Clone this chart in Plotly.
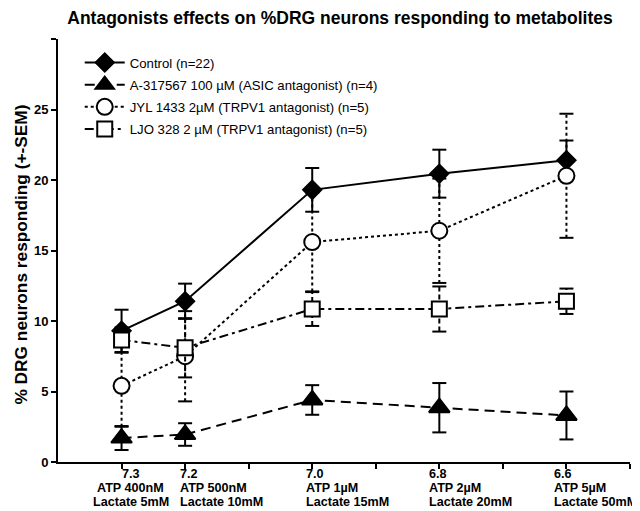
import plotly.graph_objects as go

# ---- data ----
ph = [7.3, 7.2, 7.0, 6.8, 6.6]
ph_labels = ["7.3", "7.2", "7.0", "6.8", "6.6"]
atp_labels = ["ATP 400nM", "ATP 500nM", "ATP 1µM", "ATP 2µM", "ATP 5µM"]
lactate_labels = ["Lactate 5mM", "Lactate 10mM", "Lactate 15mM", "Lactate 20mM", "Lactate 50mM"]

control_mean = [9.3, 11.4, 19.3, 20.45, 21.4]
control_sem = [1.5, 1.25, 1.55, 1.7, 1.4]
a317_mean = [1.7, 1.95, 4.4, 3.85, 3.3]
a317_sem = [0.85, 0.8, 1.05, 1.75, 1.7]
jyl_mean = [5.4, 7.5, 15.6, 16.4, 20.3]
jyl_sem = [2.9, 3.2, 3.5, 3.7, 4.4]
ljo_mean = [8.65, 8.1, 10.85, 10.85, 11.4]
ljo_sem = [0.9, 2.1, 1.2, 1.6, 0.9]

series_names = [
    "Control (n=22)",
    "A-317567 100 µM (ASIC antagonist) (n=4)",
    "JYL 1433 2µM (TRPV1 antagonist) (n=5)",
    "LJO 328 2 µM (TRPV1 antagonist) (n=5)",
]

y_ticks = [0, 5, 10, 15, 20, 25, 30]
y_ticklabels = ["0", "5", "10", "15", "20", "25", ""]
x_ticks = [7.3, 7.2, 7.1, 7.0, 6.9, 6.8, 6.7, 6.6, 6.5]

# ---- styles ----
FONT = "Liberation Sans, Arial, sans-serif"
styles = [
    dict(symbol="diamond", size=14, fill="black", dash="solid", edash="solid"),
    dict(symbol="triangle-up", size=18, fill="black", dash="10px,6px", edash="solid"),
    dict(symbol="circle", size=16, fill="white", dash="3px,3px", edash="3px,3px"),
    dict(symbol="square", size=15, fill="white", dash="9px,4px,3px,4px", edash="5px,3px"),
]
label_anchor = ["center", "left", "left", "left", "left"]
label_shift = [9, -7, -8, -12, -14]
line_offsets = [-11.5, -25.5, -39.5]

# the page body adds an 8 px offset, so the figure is drawn 8 px smaller
W, H = 632, 503

fig = go.Figure()

all_means = [control_mean, a317_mean, jyl_mean, ljo_mean]
all_sems = [control_sem, a317_sem, jyl_sem, ljo_sem]

for i, (name, m, s, st) in enumerate(zip(series_names, all_means, all_sems, styles)):
    ex, ey = [], []
    for xv, mv, sv in zip(ph, m, s):
        ex += [xv, xv, None]
        ey += [mv - sv, mv + sv, None]
    fig.add_trace(go.Scatter(
        x=ex, y=ey, mode="lines", showlegend=False, hoverinfo="skip",
        line=dict(color="black", width=2, dash=st["edash"]),
    ))
    caps_y = [mv - sv for mv, sv in zip(m, s)] + [mv + sv for mv, sv in zip(m, s)]
    fig.add_trace(go.Scatter(
        x=ph + ph, y=caps_y, mode="markers", showlegend=False, hoverinfo="skip",
        marker=dict(symbol="line-ew", size=10, line=dict(color="black", width=2)),
    ))
    fig.add_trace(go.Scatter(
        x=ph, y=m, name=name, mode="lines+markers", legendgroup="g%d" % i,
        line=dict(color="black", width=2, dash=st["dash"]),
        marker=dict(symbol=st["symbol"], size=st["size"], color=st["fill"],
                    line=dict(color="black", width=2)),
    ))

# x tick labels (three lines) as annotations
for xv, a, b, c, anc, sh in zip(ph, ph_labels, atp_labels, lactate_labels, label_anchor, label_shift):
    for txt, off in zip([a, b, c], line_offsets):
        fig.add_annotation(
            x=xv, y=0, xref="x", yref="y", yanchor="middle", yshift=off,
            xanchor=anc, xshift=sh, text=txt, showarrow=False,
            font=dict(family=FONT, size=12.6, color="black", weight="bold"),
        )

# y axis title
fig.add_annotation(
    x=-0.065, y=0.49, xref="paper", yref="paper", xanchor="center", yanchor="middle",
    text="% DRG neurons responding (+-SEM)", textangle=-90, showarrow=False,
    font=dict(family=FONT, size=17.3, color="black", weight="bold"),
)

fig.update_layout(
    width=W, height=H,
    margin=dict(l=50, r=10, t=31, b=49),
    paper_bgcolor="white", plot_bgcolor="white",
    title=dict(text="Antagonists effects on %DRG neurons responding to metabolites",
               x=0.493, xref="paper", xanchor="center", y=1 - 10 / H, yanchor="middle",
               font=dict(family=FONT, size=17.5, color="black", weight="bold")),
    xaxis=dict(range=[7.4, 6.5], tickvals=x_ticks, ticktext=[""] * len(x_ticks),
               ticks="outside", ticklen=5, tickwidth=2, tickcolor="black",
               showline=True, linecolor="black", linewidth=2,
               showgrid=False, zeroline=False),
    yaxis=dict(range=[0, 30], tickvals=y_ticks, ticktext=y_ticklabels,
               ticks="outside", ticklen=5, tickwidth=2, tickcolor="black",
               showline=True, linecolor="black", linewidth=2,
               showgrid=False, zeroline=False,
               tickfont=dict(family=FONT, size=13, color="black", weight="bold")),
    legend=dict(x=0.038, y=0.98, xanchor="left", yanchor="top",
                bgcolor="rgba(0,0,0,0)", itemwidth=40, tracegroupgap=2,
                font=dict(family=FONT, size=13.2, color="black")),
    showlegend=True,
)

fig.write_html("out.html")
